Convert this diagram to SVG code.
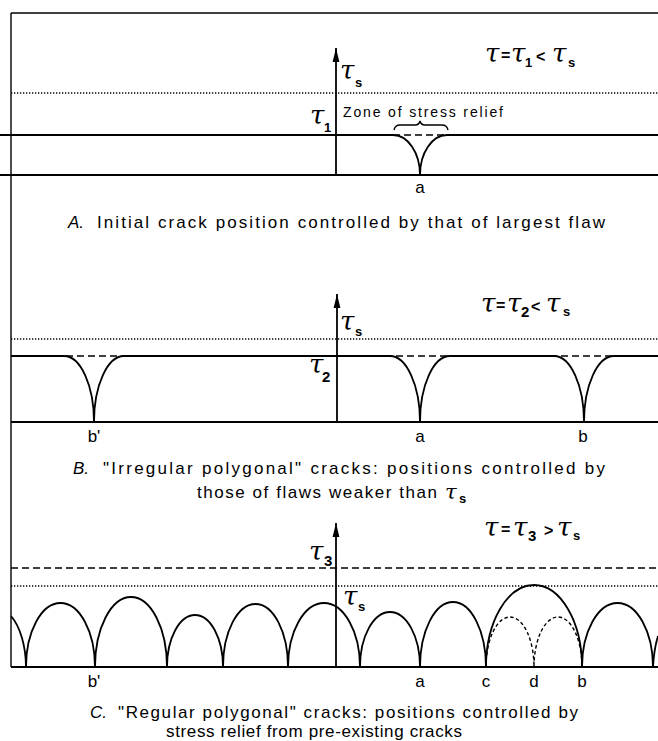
<svg xmlns="http://www.w3.org/2000/svg" width="658" height="741" viewBox="0 0 658 741">
<defs>
<style>
.ln{stroke:#000;stroke-width:1.8;fill:none}
.thin{stroke:#000;stroke-width:1.4;fill:none}
.dot{stroke:#000;stroke-width:1.3;fill:none;stroke-dasharray:1.3 1.7}
.dash{stroke:#000;stroke-width:1.6;fill:none;stroke-dasharray:7 4}
.dash2{stroke:#000;stroke-width:1.4;fill:none;stroke-dasharray:3.5 2.5}
.tau{font-family:"DejaVu Serif",serif;font-style:italic;font-size:26px;fill:#000}
.sub{font-family:"Liberation Sans",sans-serif;font-weight:bold;font-size:13px;fill:#000}
.op{font-family:"Liberation Sans",sans-serif;font-weight:bold;font-size:16px;fill:#000}
.lbl{font-family:"Liberation Sans",sans-serif;font-size:17px;fill:#000;text-anchor:middle}
.cap{font-family:"Liberation Sans",sans-serif;font-size:17px;fill:#000}
.it{font-style:italic}
.zone{font-family:"Liberation Sans",sans-serif;font-size:14px;fill:#000}
</style>
<marker id="arr" viewBox="0 0 14 8" refX="14" refY="4" markerWidth="14" markerHeight="8" orient="auto" markerUnits="userSpaceOnUse">
<path d="M0,0.6 L14,4 L0,7.4 z" fill="#000"/>
</marker>
</defs>
<rect width="658" height="741" fill="#fff"/>

<g id="frame">
<line class="thin" x1="11" y1="13" x2="658" y2="13"/>
<line class="thin" x1="11" y1="13" x2="11" y2="667"/>
</g>

<g id="panel-A">
<line class="dot" x1="11" y1="93" x2="658" y2="93"/>
<line class="ln" x1="0" y1="135" x2="393" y2="135"/>
<line class="dash" x1="393" y1="135" x2="447" y2="135"/>
<line class="ln" x1="447" y1="135" x2="658" y2="135"/>
<line class="ln" x1="0" y1="175" x2="658" y2="175"/>
<path class="ln" d="M393,135 A27,40 0 0 1 420,175 A27,40 0 0 1 447,135"/>
<path class="thin" d="M394,130 Q395,125 400,125 L415,125 Q419,125 420,121 Q421,125 425,125 L442,125 Q447,125 448,130"/>
<line class="ln" x1="336" y1="175" x2="336" y2="48" marker-end="url(#arr)"/>
<text class="zone" x="343" y="117" textLength="160" lengthAdjust="spacing">Zone of stress relief</text>
<text class="tau" x="340" y="79">τ</text><text class="sub" x="355" y="87">s</text>
<text class="tau" x="310" y="124">τ</text><text class="sub" x="324" y="132">1</text>
<text class="tau" x="485" y="62">τ</text><text class="op" x="501" y="61">=</text>
<text class="tau" x="511" y="62">τ</text><text class="sub" x="525" y="67">1</text>
<text class="op" x="536" y="62">&lt;</text>
<text class="tau" x="552" y="62">τ</text><text class="sub" x="568" y="67">s</text>
<text class="lbl" x="420" y="193">a</text>
<text class="cap" x="68" y="228"><tspan class="it">A.</tspan></text>
<text class="cap" x="97" y="228" textLength="508" lengthAdjust="spacing">Initial crack  position controlled by that of largest flaw</text>
</g>

<g id="panel-B">
<line class="dot" x1="11" y1="339" x2="658" y2="339"/>
<line class="dash" x1="11" y1="356" x2="658" y2="356"/>
<path class="ln" d="M11,356 L64,356 A30,66 0 0 1 94,422 A30,66 0 0 1 124,356 L390,356 A30,66 0 0 1 420,422 A30,66 0 0 1 450,356 L554,356 A30,66 0 0 1 584,422 A30,66 0 0 1 614,356 L658,356"/>
<line class="ln" x1="11" y1="422" x2="658" y2="422"/>
<line class="ln" x1="337" y1="422" x2="337" y2="294" marker-end="url(#arr)"/>
<text class="tau" x="340" y="330">τ</text><text class="sub" x="355" y="336">s</text>
<text class="tau" x="309" y="373">τ</text><text class="sub" x="322" y="382" style="font-size:15px">2</text>
<text class="tau" x="481" y="312">τ</text><text class="op" x="496" y="311">=</text>
<text class="tau" x="507" y="312">τ</text><text class="sub" x="521" y="317" style="font-size:15px">2</text>
<text class="op" x="531" y="312">&lt;</text>
<text class="tau" x="546" y="312">τ</text><text class="sub" x="563" y="316">s</text>
<text class="lbl" x="94" y="442">b'</text>
<text class="lbl" x="420" y="442">a</text>
<text class="lbl" x="583" y="442">b</text>
<text class="cap" x="73" y="474"><tspan class="it">B.</tspan></text>
<text class="cap" x="103" y="474" textLength="502" lengthAdjust="spacing">"Irregular polygonal" cracks: positions controlled by</text>
<text class="cap" x="197" y="498" textLength="240" lengthAdjust="spacing">those of flaws weaker than</text>
<text class="tau" x="445" y="499" style="font-size:21px">τ</text><text class="sub" x="459" y="503">s</text>
</g>

<g id="panel-C">
<line class="dash" x1="11" y1="568" x2="658" y2="568"/>
<line class="dot" x1="11" y1="586" x2="658" y2="586"/>
<line class="ln" x1="11" y1="667" x2="658" y2="667"/>
<path class="ln" d="M11,616 A30,60 0 0 1 26,667"/>
<path class="ln" d="M26,667 A34.5,64 0 0 1 95,667 A36,70 0 0 1 167,667 A28,52 0 0 1 223,667 A32.5,63 0 0 1 288,667 A36,64 0 0 1 360,667 A30,55 0 0 1 420,667 A33,65 0 0 1 486,667 A48,82 0 0 1 582,667 A35.5,64 0 0 1 653,667"/>
<path class="ln" d="M653,667 A20,60 0 0 1 658,636"/>
<path class="dash2" d="M486,667 A24,50 0 0 1 534,667 A24,50 0 0 1 582,667"/>
<line class="ln" x1="336" y1="667" x2="336" y2="523" marker-end="url(#arr)"/>
<text class="tau" x="309" y="560">τ</text><text class="sub" x="324" y="566" style="font-size:15px">3</text>
<text class="tau" x="343" y="605">τ</text><text class="sub" x="358" y="611">s</text>
<text class="tau" x="484" y="536">τ</text><text class="op" x="501" y="535">=</text>
<text class="tau" x="513" y="536">τ</text><text class="sub" x="528" y="541" style="font-size:15px">3</text>
<text class="op" x="544" y="536">&gt;</text>
<text class="tau" x="557" y="536">τ</text><text class="sub" x="573" y="540">s</text>
<text class="lbl" x="94" y="687">b'</text>
<text class="lbl" x="420" y="687">a</text>
<text class="lbl" x="486" y="687">c</text>
<text class="lbl" x="534" y="687">d</text>
<text class="lbl" x="582" y="687">b</text>
<text class="cap" x="90" y="718"><tspan class="it">C.</tspan></text>
<text class="cap" x="118" y="718" textLength="460" lengthAdjust="spacing">"Regular polygonal" cracks: positions controlled by</text>
<text class="cap" x="166" y="737" textLength="296" lengthAdjust="spacing">stress relief from pre-existing cracks</text>
</g>
</svg>
